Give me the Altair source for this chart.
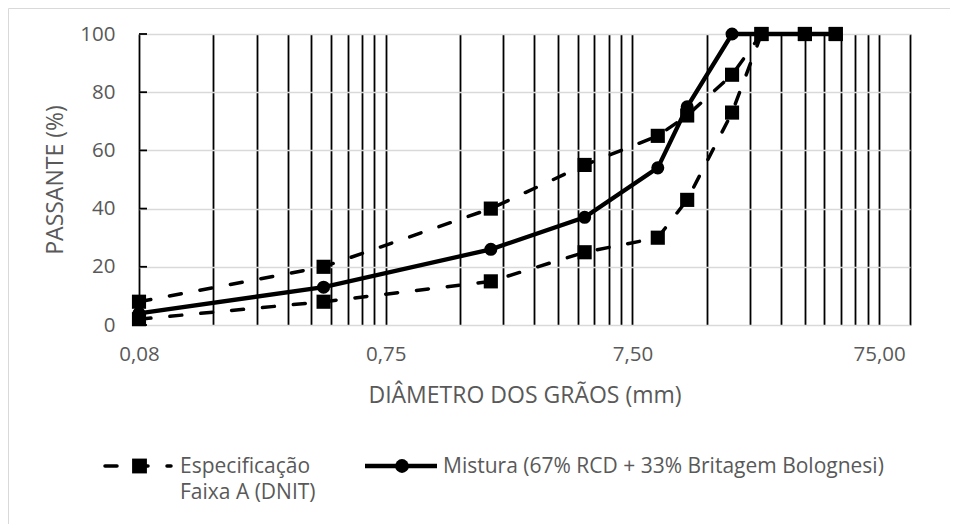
import altair as alt
import pandas as pd

# ---- data ----
diam = [0.075, 0.42, 2.0, 4.8, 9.5, 12.5, 19.0, 25.0, 37.5, 50.0]
spec_upper = [8, 20, 40, 55, 65, 72, 86, 100, 100, 100]
spec_lower = [2, 8, 15, 25, 30, 43, 73, 100, 100, 100]
mistura = [4, 13, 26, 37, 54, 75, 100, 100, 100, 100]

series_names = ["Especificação Faixa A (DNIT)", "Mistura (67% RCD + 33% Britagem Bolognesi)"]
spec_legend_lines = ["Especificação", "Faixa A (DNIT)"]

x_major = [0.075, 0.75, 7.5, 75.0]
x_grid = [round(m * k, 6) for m in x_major[:3] for k in range(1, 10)] + [75.0, 100.0]
y_ticks = [0, 20, 40, 60, 80, 100]

FONT = "Open Sans"
GREY = "#595959"
W, H = 771, 291

spec_df = pd.DataFrame({
    "diam": diam * 2,
    "valor": spec_upper + spec_lower,
    "serie": ["superior"] * len(diam) + ["inferior"] * len(diam),
})
mist_df = pd.DataFrame({"diam": diam, "valor": mistura})

label_expr = ("abs(log(datum.value/0.075)/LN10 - round(log(datum.value/0.075)/LN10)) < 0.001"
              " ? replace(format(datum.value + 0.000001, '.2f'), '.', ',') : ''")

X = alt.X("diam:Q",
          scale=alt.Scale(type="log", domain=[0.075, 100], nice=False),
          axis=alt.Axis(values=x_grid, labelExpr=label_expr, grid=True, gridColor="black",
                        gridWidth=1.8, gridOpacity=1, ticks=False, domain=False,
                        labelFont=FONT, labelFontSize=20.5, labelColor=GREY, labelPadding=19,
                        labelOverlap=False, labelFlush=False, labelBound=False,
                        title="DIÂMETRO DOS GRÃOS (mm)", titleFont=FONT, titleFontSize=23,
                        titleFontWeight="normal", titleColor=GREY, titleY=70,
                        titleBaseline="middle"))
Y = alt.Y("valor:Q",
          scale=alt.Scale(domain=[0, 100], nice=False),
          axis=alt.Axis(values=y_ticks, grid=True, gridColor="#d9d9d9", gridWidth=1.5,
                        ticks=False, domain=False, labelFont=FONT, labelFontSize=20.5,
                        labelColor=GREY, labelPadding=24,
                        title="PASSANTE (%)", titleFont=FONT, titleFontSize=23,
                        titleFontWeight="normal", titleColor=GREY, titleAngle=-90,
                        titleX=-84, titleY=H / 2, titleBaseline="middle", titleAlign="center"))

# inner y-axis ticks
ytick_df = pd.DataFrame({"valor": y_ticks})
yticks = alt.Chart(ytick_df).mark_rule(color="black", strokeWidth=1.8).encode(
    x=alt.value(0), x2=alt.value(8), y=alt.Y("valor:Q", scale=alt.Scale(domain=[0, 100], nice=False)))

mist_line = alt.Chart(mist_df).mark_line(color="black", strokeWidth=4.3).encode(x=X, y=Y)
mist_pts = alt.Chart(mist_df).mark_point(shape="circle", filled=True, size=170, color="black",
                                         opacity=1).encode(x=X, y=Y)
spec_line = alt.Chart(spec_df).mark_line(color="black", strokeWidth=3.5, strokeDash=[12, 19],
                                         strokeCap="round").encode(x=X, y=Y, detail="serie:N")
spec_pts = alt.Chart(spec_df).mark_point(shape="square", filled=True, size=200, color="black",
                                         opacity=1).encode(x=X, y=Y)

# manual legend
one = pd.DataFrame({"a": [0]})
leg_y = 432
leg1_line = alt.Chart(one).mark_rule(color="black", strokeWidth=3.5, strokeDash=[12, 19],
                                     strokeCap="round").encode(
    x=alt.value(-34), x2=alt.value(32), y=alt.value(leg_y))
leg1_pt = alt.Chart(one).mark_point(shape="square", filled=True, size=220, color="black",
                                    opacity=1).encode(x=alt.value(0.5), y=alt.value(leg_y))
leg1_txt = alt.Chart(one).mark_text(align="left", baseline="alphabetic", font=FONT, fontSize=21,
                                    color=GREY, lineHeight=26).encode(
    x=alt.value(41), y=alt.value(leg_y + 7), text=alt.value(spec_legend_lines))
leg2_line = alt.Chart(one).mark_rule(color="black", strokeWidth=4.3).encode(
    x=alt.value(226), x2=alt.value(298), y=alt.value(leg_y))
leg2_pt = alt.Chart(one).mark_point(shape="circle", filled=True, size=190, color="black",
                                    opacity=1).encode(x=alt.value(263), y=alt.value(leg_y))
leg2_txt = alt.Chart(one).mark_text(align="left", baseline="alphabetic", font=FONT, fontSize=21,
                                    color=GREY).encode(
    x=alt.value(304), y=alt.value(leg_y + 7), text=alt.value(series_names[1]))

border = alt.Chart(one).mark_rect(fillOpacity=0, stroke="#d9d9d9", strokeWidth=1).encode(
    x=alt.value(-130.5), y=alt.value(-25.5), x2=alt.value(1200), y2=alt.value(900))

chart = alt.layer(
    border, mist_line, spec_line, mist_pts, spec_pts, yticks,
    leg1_line, leg1_pt, leg1_txt, leg2_line, leg2_pt, leg2_txt,
).properties(
    width=W, height=H,
    padding={"left": 131, "top": 26, "right": 40, "bottom": 199},
    autosize=alt.AutoSizeParams(type="none"),
    background="white",
).configure_view(stroke=None)

chart.save("out.html", embed_options={"renderer": "svg", "actions": False})
